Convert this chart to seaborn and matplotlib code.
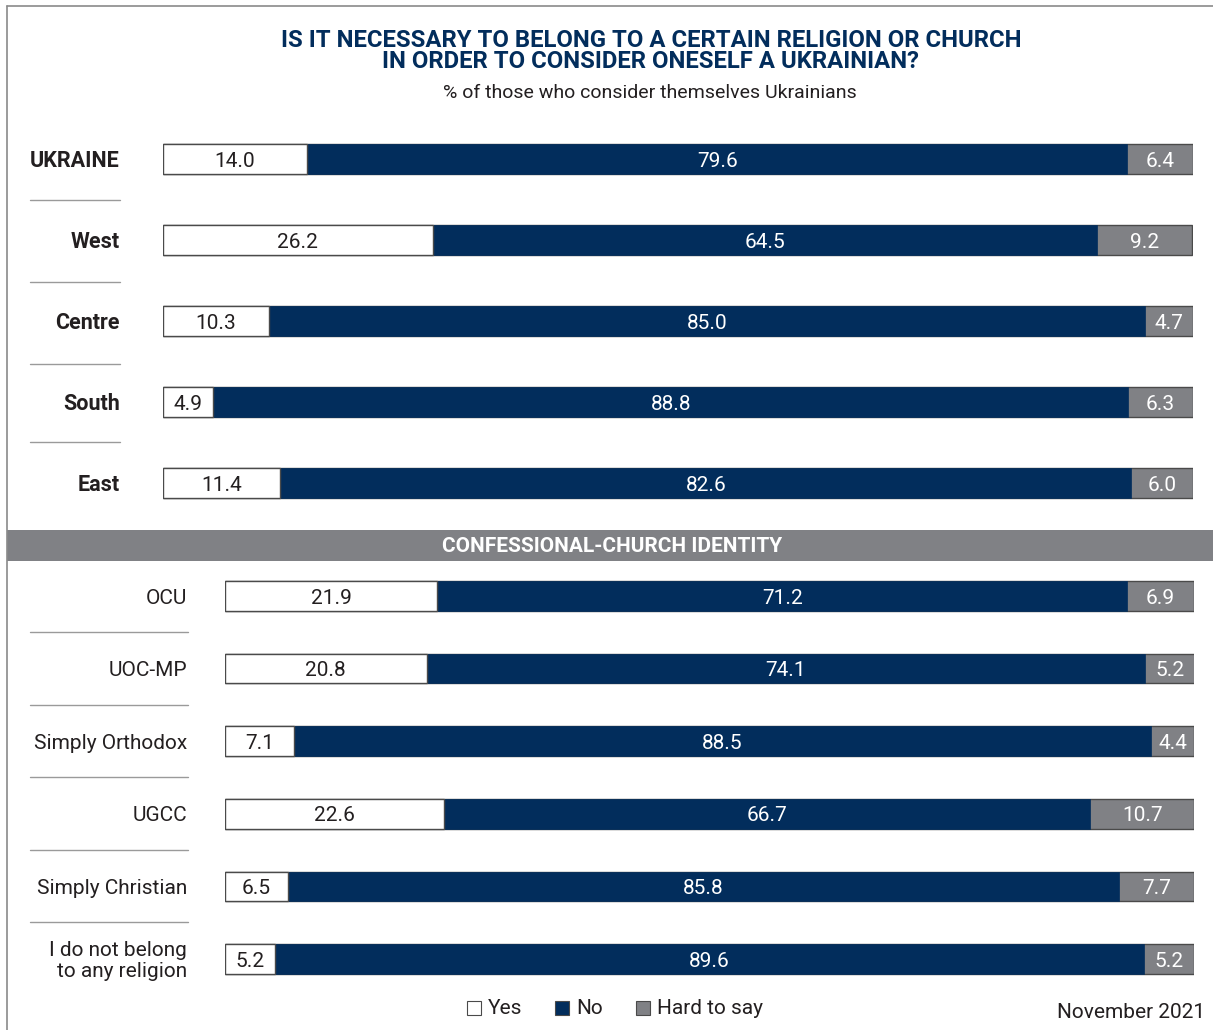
import matplotlib
matplotlib.use("Agg")
import matplotlib.pyplot as plt
from matplotlib.lines import Line2D
from matplotlib.patches import Rectangle
import seaborn as sns
import pandas as pd
import numpy as np

# ---- data ----
regions = ["UKRAINE", "West", "Centre", "South", "East"]
region_yes = [14.0, 26.2, 10.3, 4.9, 11.4]
region_no = [79.6, 64.5, 85.0, 88.8, 82.6]
region_hard = [6.4, 9.2, 4.7, 6.3, 6.0]

churches = ["OCU", "UOC-MP", "Simply Orthodox", "UGCC", "Simply Christian",
            "I do not belong\nto any religion"]
church_yes = [21.9, 20.8, 7.1, 22.6, 6.5, 5.2]
church_no = [71.2, 74.1, 88.5, 66.7, 85.8, 89.6]
church_hard = [6.9, 5.2, 4.4, 10.7, 7.7, 5.2]

legend_labels = ["Yes", "No", "Hard to say"]
title = "IS IT NECESSARY TO BELONG TO A CERTAIN RELIGION OR CHURCH\nIN ORDER TO CONSIDER ONESELF A UKRAINIAN?"
subtitle = "% of those who consider themselves Ukrainians"
section = "CONFESSIONAL-CHURCH IDENTITY"
date = "November 2021"

NAVY = "#022d5c"
GRAY = "#808185"
EDGE = "#4a4a4a"
TXT = "#231f20"

sns.set_theme(style="white")
FONT = ["Liberation Sans Narrow", "Roboto", "DejaVu Sans"]
plt.rcParams["font.family"] = FONT

W, H = 1213, 1030
fig = plt.figure(figsize=(W / 100, H / 100), dpi=100)


def fx(px):
    return px / W


def fy(py):
    return 1 - py / H


def stacked(ax, cats, yes, no, hard, bar_h, dy):
    df = pd.DataFrame({"cat": cats, "yes": yes, "no": no, "hard": hard})
    df["c2"] = df["yes"] + df["no"]
    df["c3"] = df["c2"] + df["hard"]
    sns.barplot(data=df, x="c3", y="cat", orient="h", color=GRAY, width=bar_h,
                edgecolor=EDGE, linewidth=1.0, saturation=1, ax=ax)
    sns.barplot(data=df, x="c2", y="cat", orient="h", color=NAVY, width=bar_h,
                edgecolor=NAVY, linewidth=0.5, saturation=1, ax=ax)
    sns.barplot(data=df, x="yes", y="cat", orient="h", color="white", width=bar_h,
                edgecolor=EDGE, linewidth=1.0, saturation=1, ax=ax)
    for i, r in df.iterrows():
        ax.text(r["yes"] / 2, i + dy, f"{r['yes']:.1f}", ha="center", va="center",
                color=TXT, fontsize=15)
        ax.text(r["yes"] + r["no"] / 2, i + dy, f"{r['no']:.1f}", ha="center",
                va="center", color="white", fontsize=15)
        ax.text(r["c2"] + r["hard"] / 2, i + dy, f"{r['hard']:.1f}", ha="center",
                va="center", color="white", fontsize=15)
    ax.set_xlim(0, 100)
    ax.set_ylim(len(cats) - 0.5, -0.5)
    ax.axis("off")


# top section
ax1 = fig.add_axes([fx(163), fy(523.5), fx(1030), 405 / H])
stacked(ax1, regions, region_yes, region_no, region_hard, 0.37, 0.03)
for i, lab in enumerate(regions):
    ax1.text(-4.2, i + 0.03, lab, ha="right", va="center",
             fontsize=15.5, fontweight="bold", color=TXT)

# bottom section
ax2 = fig.add_axes([fx(225), fy(995.3), fx(969), 435.6 / H])
stacked(ax2, churches, church_yes, church_no, church_hard, 0.41, 0.03)
for i, lab in enumerate(churches):
    ax2.text(-3.9, i + 0.03, lab, ha="right", va="center", fontsize=15,
             color=TXT, linespacing=1.12)

# separators
for y in [200, 282, 364, 442]:
    fig.add_artist(Line2D([fx(30), fx(120)], [fy(y), fy(y)], color="#9a9a9a", lw=1))
for y in [632, 705, 777, 850, 922]:
    fig.add_artist(Line2D([fx(30), fx(188)], [fy(y), fy(y)], color="#9a9a9a", lw=1))

# frame
fig.add_artist(Line2D([fx(7), fx(7)], [0, fy(6)], color="#8a8a8a", lw=1.2))
fig.add_artist(Line2D([fx(7), 1], [fy(6), fy(6)], color="#8a8a8a", lw=1.2))

# section band
fig.add_artist(Rectangle((fx(7), fy(561)), 1 - fx(7), 31 / H, color=GRAY, lw=0))
fig.text(fx(612), fy(547), section, ha="center", va="center", color="white",
         fontsize=15, fontweight="bold")

# title
fig.text(fx(651), fy(51), title, ha="center", va="center", color=NAVY,
         fontsize=17.2, fontweight="bold", linespacing=0.88)
fig.text(fx(650), fy(93), subtitle, ha="center", va="center", color=TXT,
         fontsize=14)

# legend
leg_items = [("white", 467, legend_labels[0]), (NAVY, 555, legend_labels[1]),
             (GRAY, 636, legend_labels[2])]
for col, x, lab in leg_items:
    fig.add_artist(Rectangle((fx(x), fy(1015)), 14 / W, 14 / H, facecolor=col,
                             edgecolor=EDGE, lw=0.8))
    fig.text(fx(x + 21), fy(1009), lab, ha="left", va="center", color=TXT,
             fontsize=15)
fig.text(fx(1205), fy(1013), date, ha="right", va="center", color=TXT,
         fontsize=15)

fig.savefig("out.png", dpi=100)
